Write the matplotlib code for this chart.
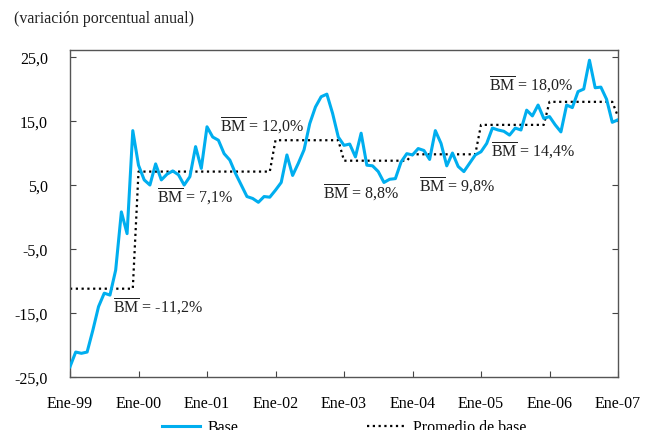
import numpy as np
import matplotlib
matplotlib.use('Agg')
import matplotlib.pyplot as plt

plt.rcParams['font.family'] = 'Liberation Serif'
plt.rcParams['mathtext.fontset'] = 'custom'
plt.rcParams['mathtext.rm'] = 'Liberation Serif'
plt.rcParams['mathtext.it'] = 'Liberation Serif:italic'

# monthly data, Ene-99 .. Ene-07
base = [
    -23.4, -21.1, -21.3, -21.1, -17.7, -14.0, -11.9, -12.2, -8.3, 0.8, -2.6, 13.5,    # 1999
    8.1, 5.8, 5.0, 8.3, 5.8, 6.7, 7.2, 6.6, 5.0, 6.3, 11.0, 7.6,                      # 2000
    14.1, 12.5, 12.0, 9.9, 8.9, 6.8, 5.0, 3.2, 2.9, 2.3, 3.2, 3.1,                    # 2001
    4.2, 5.4, 9.7, 6.5, 8.4, 10.5, 14.6, 17.2, 18.8, 19.2, 16.2, 12.5,                # 2002
    11.2, 11.4, 9.4, 13.1, 8.1, 8.0, 7.1, 5.4, 5.9, 6.0, 8.6, 9.9,                    # 2003
    9.7, 10.7, 10.4, 9.0, 13.5, 11.5, 8.0, 10.0, 7.9, 7.1, 8.4, 9.7,                  # 2004
    10.2, 11.5, 13.9, 13.6, 13.4, 12.8, 13.9, 13.6, 16.7, 15.8, 17.5, 15.4,           # 2005
    15.7, 14.4, 13.3, 17.5, 17.1, 19.6, 20.0, 24.5, 20.2, 20.3, 18.4, 14.8,           # 2006
    15.2,                                                                              # Ene-07
]

# period averages (BM) for each year
bm_year = [-11.2, 7.1, 7.1, 12.0, 8.8, 9.8, 14.4, 18.0]
bm_last = 15.7
promedio = [v for v in bm_year for _ in range(12)] + [bm_last]

xlabels = ['Ene-99', 'Ene-00', 'Ene-01', 'Ene-02', 'Ene-03',
           'Ene-04', 'Ene-05', 'Ene-06', 'Ene-07']
yticks = [-25, -15, -5, 5, 15, 25]
ylabels = ['-25,0', '-15,0', '-5,0', '5,0', '15,0', '25,0']

# annotations: (month, value, text)
bm_labels = [
    (7.6, -13.9, '-11,2%'),
    (15.3, 3.3, '7,1%'),
    (26.2, 14.5, '12,0%'),
    (44.4, 3.9, '8,8%'),
    (61.2, 5.1, '9,8%'),
    (73.8, 10.5, '14,4%'),
    (73.4, 20.9, '18,0%'),
]

months = np.arange(len(base))
fs = 11.5

fig = plt.figure(figsize=(6.53, 4.31), dpi=100)
ax = fig.add_axes([70 / 653, 1 - 378 / 431, 548 / 653, 327 / 431])

ax.plot(months, base, color='#00AEEF', lw=2.2, label='Base', zorder=3)
ax.plot(months, promedio, color='black', lw=1.6, linestyle=(0, (1, 1.6)),
        label='Promedio de base', zorder=2)

for mx, my, txt in bm_labels:
    ax.text(mx, my, r'$\overline{\mathrm{BM}}$' + ' = ' + txt, fontsize=fs,
            ha='left', va='center', color='#222222')

ax.set_xlim(0, 96)
ax.set_ylim(-25, 26.1)
ax.set_xticks(np.arange(0, 97, 12))
ax.set_xticklabels(xlabels, fontsize=fs)
ax.set_yticks(yticks)
ax.set_yticklabels(ylabels, fontsize=fs)
ax.tick_params(axis='both', direction='in', length=4, color='#444444')
ax.tick_params(axis='x', pad=13)
ax.tick_params(axis='y', right=True, pad=16)
for s in ax.spines.values():
    s.set_color('#555555')
    s.set_linewidth(1.0)

fig.text(14 / 653, 1 - 19 / 431, '(variación porcentual anual)', fontsize=fs,
         va='center', ha='left', color='#222222')

fig.legend(loc='upper center', bbox_to_anchor=(344 / 653, 1 - 406 / 431),
           ncol=2, frameon=False, fontsize=fs, handlelength=2.4,
           columnspacing=8, handletextpad=0.5)

fig.savefig('out.png', dpi=100)
